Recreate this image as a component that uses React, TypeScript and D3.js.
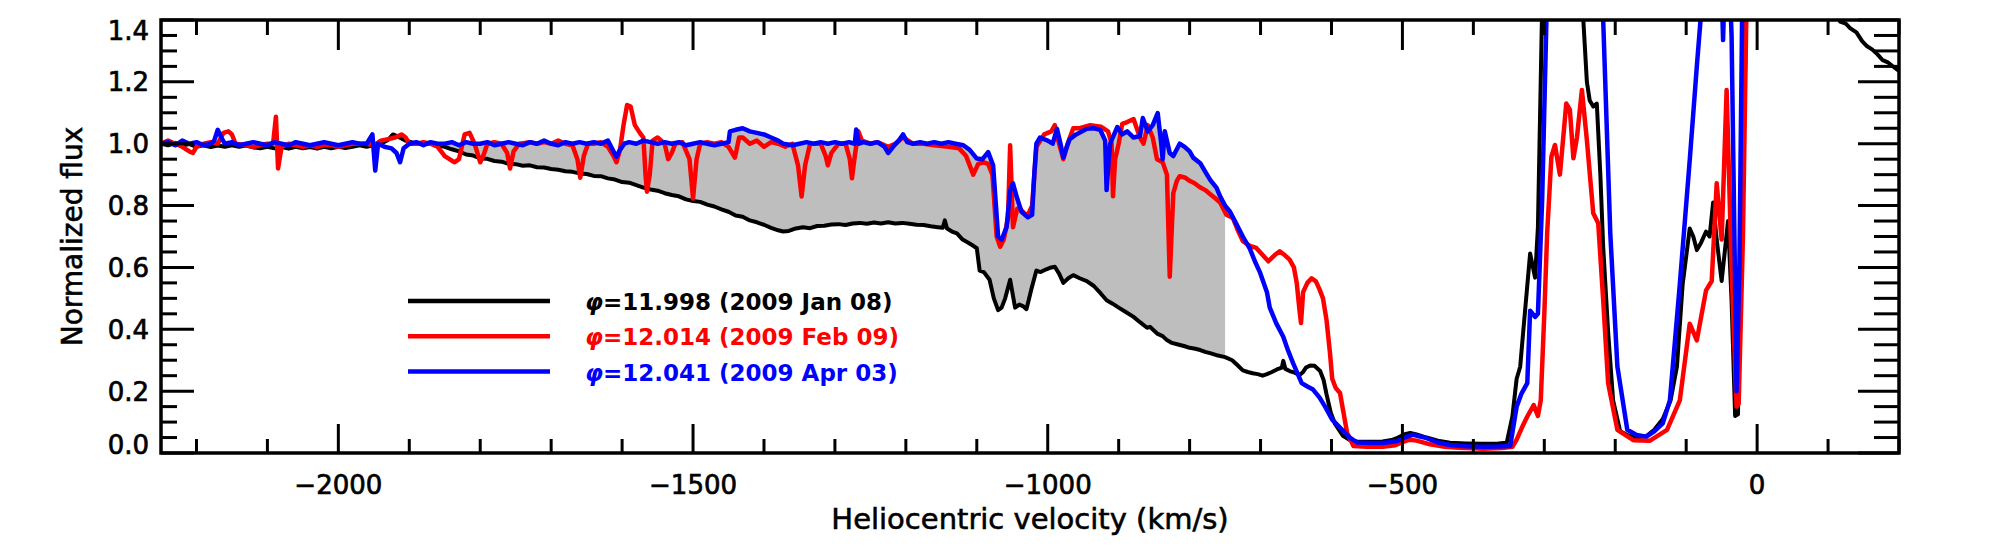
import React from 'react';
import * as d3 from 'd3';

// Spectra, [heliocentric velocity (km/s), normalized flux]
const spec0108: [number, number][] = [
  [-2250, 1.0], [-2240, 0.995], [-2230, 1.003], [-2220, 0.994], [-2210, 0.999], [-2200, 0.99], [-2190, 0.995],
  [-2180, 0.989], [-2170, 0.994], [-2160, 0.99], [-2150, 0.995], [-2140, 0.99], [-2130, 0.994], [-2120, 0.988],
  [-2110, 0.985], [-2100, 0.99], [-2090, 0.985], [-2080, 0.989], [-2070, 0.984], [-2060, 0.99], [-2050, 0.985],
  [-2040, 0.989], [-2030, 0.984], [-2020, 0.99], [-2010, 0.985], [-2000, 0.99], [-1990, 0.986], [-1980, 0.99],
  [-1970, 0.995], [-1960, 0.99], [-1950, 0.996], [-1940, 1.0], [-1930, 1.012], [-1923, 1.03], [-1915, 1.022],
  [-1905, 1.01], [-1895, 1.003], [-1885, 1.0], [-1870, 1.0], [-1860, 0.995], [-1850, 0.99], [-1840, 0.982],
  [-1830, 0.975], [-1820, 0.965], [-1810, 0.962], [-1800, 0.952], [-1790, 0.951], [-1780, 0.944], [-1770, 0.942],
  [-1760, 0.935], [-1750, 0.934], [-1740, 0.929], [-1730, 0.93], [-1720, 0.924], [-1710, 0.923], [-1700, 0.918],
  [-1690, 0.916], [-1680, 0.911], [-1670, 0.909], [-1660, 0.904], [-1650, 0.902], [-1640, 0.896], [-1630, 0.895],
  [-1620, 0.888], [-1610, 0.884], [-1600, 0.876], [-1590, 0.874], [-1580, 0.866], [-1570, 0.858], [-1560, 0.852],
  [-1550, 0.848], [-1540, 0.84], [-1530, 0.834], [-1520, 0.83], [-1510, 0.82], [-1500, 0.815], [-1490, 0.812],
  [-1480, 0.803], [-1470, 0.797], [-1460, 0.788], [-1450, 0.78], [-1440, 0.768], [-1430, 0.764], [-1420, 0.752],
  [-1410, 0.746], [-1400, 0.738], [-1390, 0.728], [-1380, 0.72], [-1373, 0.716], [-1365, 0.718], [-1355, 0.726],
  [-1345, 0.73], [-1335, 0.727], [-1325, 0.734], [-1315, 0.735], [-1305, 0.739], [-1295, 0.74], [-1285, 0.737],
  [-1275, 0.742], [-1265, 0.744], [-1255, 0.741], [-1245, 0.745], [-1235, 0.742], [-1225, 0.746], [-1215, 0.742],
  [-1205, 0.744], [-1195, 0.741], [-1185, 0.738], [-1175, 0.737], [-1165, 0.733], [-1155, 0.73], [-1148, 0.728],
  [-1145, 0.752], [-1142, 0.726], [-1135, 0.716], [-1128, 0.71], [-1120, 0.69], [-1112, 0.68], [-1105, 0.67],
  [-1100, 0.662], [-1096, 0.59], [-1090, 0.585], [-1082, 0.56], [-1076, 0.5], [-1070, 0.462], [-1065, 0.47],
  [-1060, 0.5], [-1053, 0.56], [-1046, 0.47], [-1040, 0.48], [-1035, 0.475], [-1030, 0.465], [-1023, 0.53],
  [-1016, 0.59], [-1010, 0.585], [-1002, 0.594], [-995, 0.6], [-990, 0.602], [-984, 0.58], [-978, 0.55],
  [-971, 0.565], [-964, 0.575], [-955, 0.565], [-945, 0.556], [-935, 0.54], [-925, 0.515], [-917, 0.494],
  [-908, 0.482], [-900, 0.47], [-890, 0.456], [-879, 0.44], [-870, 0.423], [-860, 0.405], [-856, 0.408],
  [-845, 0.385], [-838, 0.378], [-832, 0.365], [-825, 0.356], [-815, 0.35], [-808, 0.346], [-800, 0.34],
  [-792, 0.337], [-785, 0.333], [-778, 0.327], [-770, 0.322], [-760, 0.315], [-750, 0.31], [-740, 0.3],
  [-732, 0.283], [-725, 0.267], [-718, 0.262], [-711, 0.258], [-704, 0.255], [-697, 0.25], [-691, 0.255],
  [-684, 0.262], [-677, 0.27], [-670, 0.276], [-668, 0.298], [-665, 0.272], [-659, 0.265], [-652, 0.26],
  [-645, 0.252], [-640, 0.262], [-636, 0.276], [-630, 0.283], [-624, 0.282], [-616, 0.265], [-611, 0.235],
  [-607, 0.19], [-601, 0.13], [-595, 0.094], [-584, 0.056], [-574, 0.042], [-564, 0.037], [-546, 0.036],
  [-528, 0.037], [-515, 0.042], [-508, 0.048], [-498, 0.06], [-489, 0.065], [-480, 0.06], [-466, 0.05],
  [-450, 0.04], [-433, 0.033], [-410, 0.031], [-386, 0.03], [-365, 0.031], [-353, 0.033], [-345, 0.118],
  [-339, 0.24], [-334, 0.279], [-330, 0.385], [-320, 0.645], [-313, 0.567], [-309, 0.73], [-303, 1.45],
  [-290, 2.0], [-255, 2.0], [-245, 1.4], [-240, 1.2], [-236, 1.14], [-231, 1.12], [-226, 1.13], [-221, 0.9],
  [-217, 0.667], [-210, 0.39], [-203, 0.17], [-193, 0.07], [-180, 0.055], [-170, 0.05], [-156, 0.055],
  [-145, 0.075], [-133, 0.11], [-122, 0.17], [-113, 0.28], [-105, 0.545], [-95, 0.726], [-90, 0.7],
  [-85, 0.656], [-79, 0.68], [-72, 0.716], [-67, 0.7], [-62, 0.81], [-57, 0.69], [-50, 0.556], [-41, 0.75],
  [-36, 0.49], [-31, 0.12], [-27, 0.125], [-20, 0.9], [-15, 1.45], [0, 2.5], [60, 2.2], [100, 1.6],
  [117, 1.395], [125, 1.388], [131, 1.374], [140, 1.36], [148, 1.332], [155, 1.315], [162, 1.305],
  [170, 1.288], [177, 1.27], [185, 1.262], [192, 1.249], [200, 1.235],
];

const spec0209: [number, number][] = [
  [-2250, 1.0], [-2240, 1.01], [-2230, 1.0], [-2220, 0.99], [-2210, 0.975], [-2205, 0.97], [-2200, 0.99],
  [-2190, 1.0], [-2180, 1.005], [-2170, 1.0], [-2162, 1.035], [-2155, 1.04], [-2150, 1.03], [-2145, 1.0],
  [-2130, 0.995], [-2120, 0.99], [-2110, 0.995], [-2100, 1.0], [-2092, 1.0], [-2088, 1.087], [-2085, 0.92],
  [-2080, 0.99], [-2070, 1.0], [-2060, 0.995], [-2050, 0.99], [-2040, 0.995], [-2030, 0.99], [-2020, 0.995],
  [-2010, 0.995], [-2000, 0.99], [-1990, 0.995], [-1980, 1.0], [-1970, 1.0], [-1960, 1.0], [-1950, 0.995],
  [-1940, 1.01], [-1930, 1.015], [-1920, 1.02], [-1911, 1.03], [-1905, 1.02], [-1900, 1.0], [-1890, 1.0],
  [-1880, 1.005], [-1870, 1.0], [-1860, 0.99], [-1850, 0.96], [-1840, 0.945], [-1836, 0.94], [-1830, 0.95],
  [-1822, 1.03], [-1815, 1.035], [-1808, 1.0], [-1800, 0.94], [-1795, 0.965], [-1790, 1.0], [-1780, 1.005],
  [-1770, 1.0], [-1762, 0.97], [-1758, 0.92], [-1753, 0.975], [-1745, 1.0], [-1730, 1.005], [-1720, 1.0],
  [-1710, 1.005], [-1700, 1.0], [-1690, 1.01], [-1680, 1.0], [-1670, 0.995], [-1663, 0.95], [-1659, 0.89],
  [-1654, 0.96], [-1648, 1.0], [-1640, 1.0], [-1630, 1.005], [-1620, 0.99], [-1612, 0.96], [-1608, 0.94],
  [-1603, 0.98], [-1598, 1.06], [-1593, 1.125], [-1588, 1.12], [-1582, 1.06], [-1575, 1.035], [-1570, 1.02],
  [-1567, 0.9], [-1565, 0.845], [-1561, 0.9], [-1557, 1.01], [-1550, 1.02], [-1540, 1.0], [-1535, 0.95],
  [-1530, 0.97], [-1525, 1.0], [-1515, 1.005], [-1505, 0.95], [-1500, 0.823], [-1495, 0.95], [-1490, 1.0],
  [-1480, 1.005], [-1470, 1.0], [-1460, 1.005], [-1450, 0.99], [-1441, 0.955], [-1435, 1.02], [-1430, 1.02],
  [-1420, 1.0], [-1410, 1.01], [-1400, 0.99], [-1390, 1.005], [-1380, 1.0], [-1370, 0.99], [-1360, 1.0],
  [-1352, 0.93], [-1347, 0.829], [-1342, 0.93], [-1335, 1.0], [-1320, 1.0], [-1313, 0.96], [-1310, 0.93],
  [-1305, 0.97], [-1295, 1.0], [-1285, 1.0], [-1279, 0.95], [-1276, 0.888], [-1272, 0.96], [-1267, 1.04],
  [-1262, 1.01], [-1250, 1.0], [-1240, 1.005], [-1225, 0.99], [-1215, 1.0], [-1204, 1.02], [-1190, 1.0],
  [-1175, 1.0], [-1160, 0.995], [-1140, 0.99], [-1125, 0.985], [-1115, 0.96], [-1105, 0.9], [-1098, 0.935],
  [-1090, 0.94], [-1084, 0.935], [-1078, 0.9], [-1072, 0.7], [-1067, 0.667], [-1062, 0.69], [-1056, 0.76],
  [-1053, 0.995], [-1049, 0.73], [-1043, 0.79], [-1039, 0.79], [-1033, 0.775], [-1028, 0.77], [-1022, 0.8],
  [-1016, 0.99], [-1005, 1.03], [-995, 1.04], [-990, 1.06], [-984, 1.0], [-978, 0.95], [-972, 1.0],
  [-964, 1.05], [-955, 1.05], [-940, 1.06], [-925, 1.055], [-915, 1.04], [-910, 1.0], [-908, 0.83],
  [-905, 0.95], [-900, 1.0], [-895, 1.064], [-888, 1.07], [-879, 1.08], [-870, 1.02], [-865, 1.0],
  [-859, 1.06], [-852, 1.02], [-846, 0.95], [-838, 0.94], [-832, 0.9], [-828, 0.57], [-823, 0.84],
  [-818, 0.88], [-814, 0.895], [-806, 0.89], [-800, 0.88], [-793, 0.872], [-786, 0.86], [-778, 0.85],
  [-770, 0.835], [-763, 0.822], [-757, 0.81], [-748, 0.77], [-739, 0.76], [-732, 0.72], [-725, 0.685],
  [-715, 0.67], [-706, 0.663], [-697, 0.64], [-689, 0.62], [-680, 0.64], [-673, 0.652], [-666, 0.64],
  [-659, 0.625], [-653, 0.6], [-649, 0.55], [-645, 0.46], [-643, 0.42], [-640, 0.52], [-634, 0.55],
  [-628, 0.565], [-622, 0.555], [-617, 0.53], [-612, 0.5], [-607, 0.43], [-602, 0.32], [-599, 0.24],
  [-594, 0.21], [-588, 0.194], [-583, 0.13], [-578, 0.065], [-569, 0.023], [-550, 0.02], [-528, 0.02],
  [-510, 0.025], [-500, 0.035], [-490, 0.043], [-480, 0.04], [-461, 0.028], [-440, 0.02], [-420, 0.017],
  [-400, 0.015], [-386, 0.014], [-360, 0.016], [-345, 0.02], [-339, 0.043], [-330, 0.09], [-324, 0.118],
  [-315, 0.155], [-309, 0.12], [-305, 0.17], [-300, 0.45], [-296, 0.71], [-290, 0.958], [-285, 0.996],
  [-278, 0.9], [-269, 1.13], [-264, 1.11], [-259, 0.953], [-254, 1.02], [-247, 1.174], [-240, 1.012],
  [-231, 0.775], [-224, 0.743], [-217, 0.494], [-210, 0.225], [-197, 0.075], [-174, 0.041], [-151, 0.04],
  [-127, 0.075], [-109, 0.17], [-95, 0.418], [-85, 0.364], [-72, 0.526], [-64, 0.556], [-57, 0.872],
  [-50, 0.69], [-43, 1.174], [-36, 0.6], [-29, 0.15], [-26, 0.16], [-20, 0.7], [-15, 1.45], [-5, 2.0],
  [50, 2.0], [200, 2.0],
];

const spec0403: [number, number][] = [
  [-2250, 1.0], [-2240, 1.005], [-2230, 0.995], [-2220, 1.01], [-2210, 1.0], [-2200, 1.005], [-2190, 0.995],
  [-2180, 1.0], [-2175, 1.01], [-2170, 1.045], [-2165, 1.02], [-2160, 1.0], [-2150, 1.005], [-2140, 0.995],
  [-2130, 1.0], [-2120, 1.005], [-2110, 1.0], [-2100, 0.995], [-2090, 1.005], [-2080, 1.0], [-2070, 0.995],
  [-2060, 1.005], [-2050, 1.0], [-2040, 0.995], [-2030, 1.0], [-2020, 1.005], [-2010, 1.0], [-2000, 0.995],
  [-1990, 1.0], [-1980, 1.005], [-1970, 1.0], [-1960, 1.0], [-1952, 1.03], [-1948, 0.913], [-1944, 1.0],
  [-1935, 0.99], [-1925, 0.985], [-1918, 0.97], [-1913, 0.94], [-1908, 0.985], [-1900, 1.0], [-1890, 1.005],
  [-1880, 0.995], [-1870, 1.005], [-1860, 1.0], [-1850, 1.0], [-1840, 1.005], [-1830, 0.995], [-1820, 1.005],
  [-1810, 1.0], [-1800, 1.0], [-1790, 1.005], [-1780, 0.995], [-1770, 1.0], [-1760, 1.005], [-1750, 1.0],
  [-1740, 0.995], [-1730, 1.005], [-1720, 1.0], [-1710, 1.01], [-1700, 1.0], [-1690, 0.995], [-1680, 1.005],
  [-1670, 1.0], [-1660, 1.005], [-1650, 1.0], [-1640, 1.005], [-1630, 1.0], [-1620, 1.01], [-1612, 0.975],
  [-1608, 0.958], [-1603, 0.98], [-1597, 1.0], [-1590, 1.005], [-1580, 1.0], [-1570, 1.01], [-1560, 1.005],
  [-1550, 1.0], [-1540, 1.005], [-1530, 1.0], [-1520, 1.005], [-1510, 0.995], [-1500, 1.0], [-1490, 1.005],
  [-1480, 1.0], [-1470, 0.995], [-1460, 1.0], [-1450, 1.005], [-1448, 1.04], [-1440, 1.045], [-1430, 1.05],
  [-1420, 1.04], [-1410, 1.035], [-1400, 1.03], [-1390, 1.02], [-1380, 1.01], [-1373, 1.0], [-1360, 0.995],
  [-1350, 1.0], [-1340, 1.005], [-1330, 1.0], [-1320, 1.005], [-1310, 1.0], [-1300, 1.005], [-1290, 1.0],
  [-1280, 1.005], [-1272, 1.0], [-1270, 1.046], [-1266, 1.0], [-1260, 1.005], [-1250, 1.0], [-1240, 1.005],
  [-1230, 0.99], [-1225, 0.97], [-1218, 0.99], [-1210, 1.01], [-1204, 1.03], [-1198, 1.005], [-1190, 1.0],
  [-1180, 1.005], [-1170, 1.0], [-1160, 1.005], [-1150, 1.0], [-1140, 1.005], [-1130, 1.0], [-1119, 0.995],
  [-1110, 0.98], [-1100, 0.952], [-1092, 0.95], [-1084, 0.973], [-1077, 0.93], [-1073, 0.8], [-1070, 0.7],
  [-1065, 0.69], [-1058, 0.73], [-1053, 0.85], [-1049, 0.872], [-1044, 0.83], [-1037, 0.78], [-1028, 0.762],
  [-1022, 0.77], [-1019, 0.9], [-1016, 1.0], [-1011, 1.02], [-1000, 1.01], [-993, 1.0], [-987, 1.048],
  [-982, 1.0], [-978, 0.955], [-973, 0.99], [-969, 1.015], [-960, 1.03], [-945, 1.048], [-935, 1.05],
  [-926, 1.045], [-919, 1.01], [-917, 0.85], [-914, 0.95], [-912, 1.0], [-902, 1.054], [-895, 1.03],
  [-888, 1.04], [-879, 1.02], [-870, 1.025], [-866, 1.083], [-859, 1.04], [-852, 1.06], [-845, 1.099],
  [-840, 1.0], [-838, 0.95], [-835, 1.04], [-828, 0.97], [-823, 0.96], [-814, 1.0], [-807, 0.99],
  [-800, 0.975], [-795, 0.955], [-785, 0.937], [-778, 0.91], [-771, 0.883], [-762, 0.857], [-757, 0.83],
  [-750, 0.8], [-743, 0.78], [-734, 0.74], [-725, 0.7], [-715, 0.66], [-708, 0.62], [-701, 0.585],
  [-691, 0.52], [-687, 0.47], [-678, 0.42], [-668, 0.376], [-661, 0.33], [-654, 0.29], [-642, 0.226],
  [-634, 0.215], [-626, 0.205], [-617, 0.18], [-609, 0.15], [-599, 0.108], [-585, 0.075], [-574, 0.05],
  [-564, 0.034], [-545, 0.032], [-528, 0.032], [-508, 0.038], [-495, 0.052], [-485, 0.059], [-466, 0.048],
  [-450, 0.034], [-433, 0.026], [-410, 0.022], [-386, 0.02], [-365, 0.021], [-348, 0.023], [-339, 0.15],
  [-332, 0.193], [-324, 0.226], [-320, 0.46], [-313, 0.44], [-309, 0.45], [-303, 0.82], [-296, 1.5],
  [-260, 2.0], [-230, 1.7], [-217, 1.4], [-207, 0.71], [-197, 0.28], [-183, 0.075], [-170, 0.058],
  [-156, 0.053], [-145, 0.07], [-133, 0.096], [-123, 0.17], [-109, 0.545], [-95, 0.947], [-85, 1.25],
  [-78, 1.45], [-60, 1.8], [-50, 1.5], [-48, 1.335], [-46, 1.5], [-40, 1.6], [-36, 1.35], [-32, 0.7],
  [-29, 0.2], [-25, 0.6], [-21, 1.45], [0, 2.5], [200, 2.5],
];

const seriesColors = ['#000000', '#ff0000', '#0000ff'];
const legendPhases = ['11.998', '12.014', '12.041'];
const legendDates = ['(2009 Jan 08)', '(2009 Feb 09)', '(2009 Apr 03)'];

const xTickLabels = [-2000, -1500, -1000, -500, 0];
const yTickLabels = [0.0, 0.2, 0.4, 0.6, 0.8, 1.0, 1.2, 1.4];

// shaded velocity range between Jan 08 and Apr 03
const shadeRange = [-1850, -750];

const W = 2000;
const H = 554;
const L = 161, R = 1899, T = 20, B = 453;
const FONT = '"DejaVu Sans", Verdana, sans-serif';

export default function App() {
  const x = d3.scaleLinear().domain([-2250, 200]).range([L, R]);
  const y = d3.scaleLinear().domain([0, 1.4]).range([B, T]);

  const line = d3.line<[number, number]>().x(d => x(d[0])).y(d => y(d[1]));

  const inShade = (d: [number, number]) => d[0] >= shadeRange[0] && d[0] <= shadeRange[1];
  const shadeTop = spec0403.filter(inShade);
  const shadeBottom = spec0108.filter(inShade).reverse();
  const shadePath = line([...shadeTop, ...shadeBottom]) + 'Z';

  const xMinor = d3.range(-2200, 201, 100);
  const yMinor = d3.range(0, 1.4001, 0.05);

  const fmtX = (v: number) => (v < 0 ? '\u2212' + Math.abs(v) : String(v));

  return (
    <div style={{ position: 'absolute', left: 0, top: 0 }}>
      <svg width={W} height={H} style={{ display: 'block', background: '#fff' }}>
        <defs>
          <clipPath id="plot">
            <rect x={L} y={T} width={R - L} height={B - T} />
          </clipPath>
        </defs>
        <rect x={0} y={0} width={W} height={H} fill="#fff" />

        <g clipPath="url(#plot)">
          <path d={shadePath} fill="#bebebe" stroke="none" />
          {[spec0108, spec0209, spec0403].map((s, i) => (
            <path key={i} d={line(s) || ''} fill="none" stroke={seriesColors[i]}
              strokeWidth={i === 0 ? 4 : 4.5} strokeLinejoin="round" />
          ))}
        </g>

        {/* ticks */}
        <g stroke="#000" strokeWidth={3}>
          {xMinor.map(v => {
            const major = xTickLabels.includes(v);
            const len = major ? 29 : 14;
            return (
              <g key={'x' + v}>
                <line x1={x(v)} x2={x(v)} y1={B} y2={B - len} />
                <line x1={x(v)} x2={x(v)} y1={T} y2={T + len + 1} />
              </g>
            );
          })}
          {yMinor.map(v => {
            const major = Math.abs(v * 5 - Math.round(v * 5)) < 1e-6;
            return (
              <g key={'y' + v.toFixed(2)}>
                <line x1={L} x2={L + (major ? 33 : 16)} y1={y(v)} y2={y(v)} />
                <line x1={R} x2={R - (major ? 41 : 25)} y1={y(v)} y2={y(v)} />
              </g>
            );
          })}
        </g>
        <rect x={L} y={T} width={R - L} height={B - T} fill="none" stroke="#000" strokeWidth={3.5} />

        {/* tick labels */}
        <g fontFamily={FONT} fontSize={26} fill="#000" stroke="#000" strokeWidth={0.7}>
          {xTickLabels.map(v => (
            <text key={v} x={x(v)} y={494} textAnchor="middle">{fmtX(v)}</text>
          ))}
          {yTickLabels.map(v => (
            <text key={v} x={149} y={Math.min(454, Math.max(40, y(v) + 9.5))} textAnchor="end">
              {v.toFixed(1)}
            </text>
          ))}
        </g>

        <text x={(L + R) / 2} y={529} textAnchor="middle" fontFamily={FONT} fontSize={29}
          stroke="#000" strokeWidth={0.6}>
          Heliocentric velocity (km/s)
        </text>
        <text transform={`translate(82,${(T + B) / 2}) rotate(-90)`} textAnchor="middle"
          fontFamily={FONT} fontSize={28} stroke="#000" strokeWidth={0.6}>
          Normalized flux
        </text>

        {/* legend */}
        {legendPhases.map((p, i) => {
          const ly = 301 + i * 35.3;
          return (
            <g key={p}>
              <line x1={408} x2={550} y1={ly} y2={ly} stroke={seriesColors[i]} strokeWidth={4.5} />
              <text x={585} y={ly + 9} fontFamily={FONT} fontSize={23} fontWeight="bold" fill={seriesColors[i]}>
                <tspan fontStyle="italic">φ</tspan>={p} {legendDates[i]}
              </text>
            </g>
          );
        })}
      </svg>
    </div>
  );
}
